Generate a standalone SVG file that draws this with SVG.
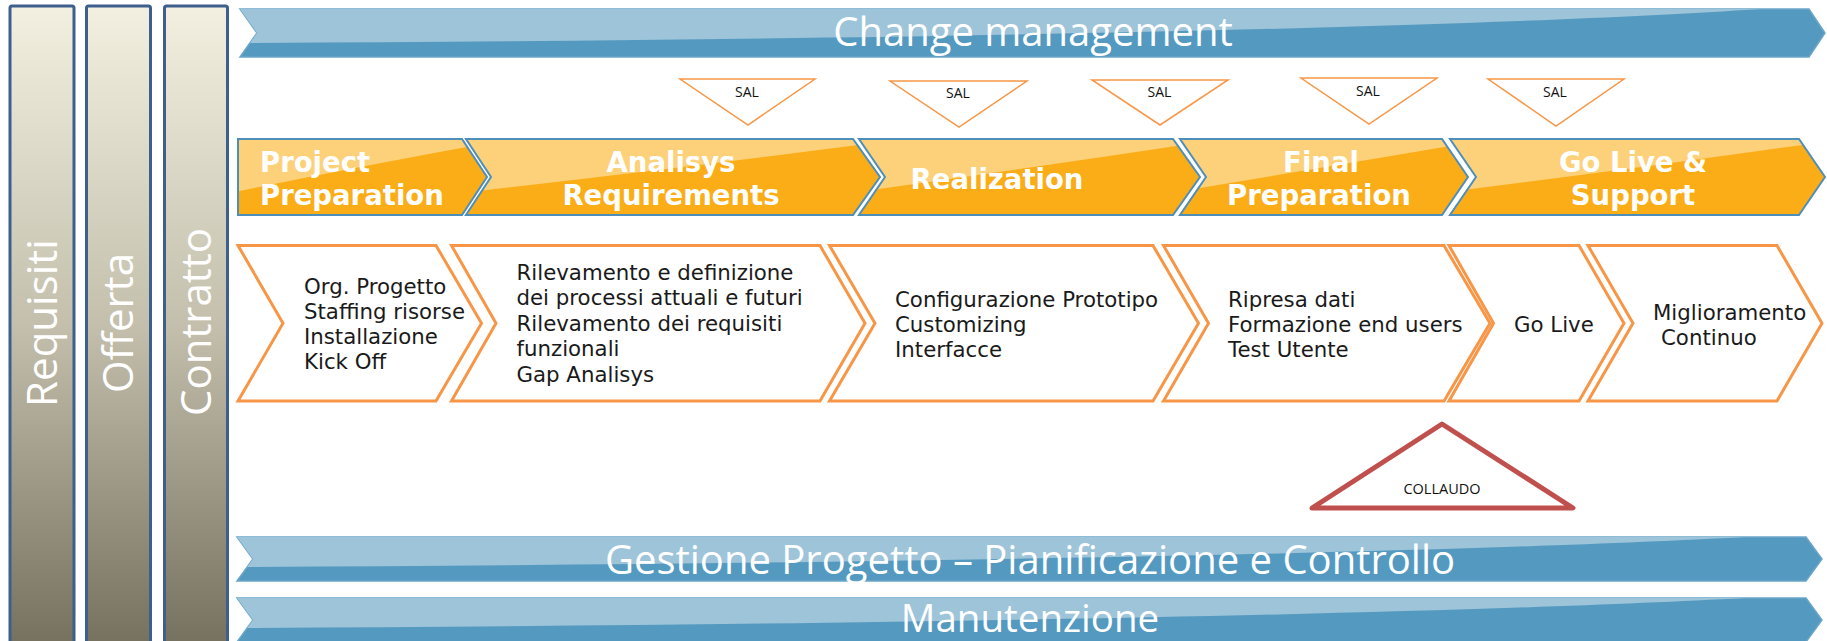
<svg xmlns="http://www.w3.org/2000/svg" width="1827" height="641" viewBox="0 0 1827 641">
<defs>
<linearGradient id="barGrad" x1="0" y1="0" x2="0" y2="1">
<stop offset="0" stop-color="#f3f0e1"/>
<stop offset="0.5" stop-color="#c3bfac"/>
<stop offset="1" stop-color="#75715e"/>
</linearGradient>
<clipPath id="cpTop"><path d="M240,9 L1809,9 L1825,33 L1809,57 L240,57 L257,33 Z"/></clipPath>
<clipPath id="cpGes"><path d="M237,537 L1806,537 L1822,559 L1806,581 L237,581 L253,559 Z"/></clipPath>
<clipPath id="cpMan"><path d="M237,598 L1806,598 L1822,620 L1806,642 L237,642 L253,620 Z"/></clipPath>
<clipPath id="cpS1"><path d="M238,139 L462,139 L487,177 L462,215 L238,215 Z"/></clipPath>
<clipPath id="cpS2"><path d="M466,139 L853,139 L880,177 L853,215 L466,215 L491,177 Z"/></clipPath>
<clipPath id="cpS3"><path d="M859,139 L1173,139 L1200,177 L1173,215 L859,215 L885,177 Z"/></clipPath>
<clipPath id="cpS4"><path d="M1180,139 L1442,139 L1468,177 L1442,215 L1180,215 L1206,177 Z"/></clipPath>
<clipPath id="cpS5"><path d="M1450,139 L1799,139 L1825,177 L1799,215 L1450,215 L1476,177 Z"/></clipPath>
</defs>
<style>
.bar{fill:url(#barGrad);stroke:#3d5f8e;stroke-width:3}
.vlab{font-family:"Open Sans","DejaVu Sans",sans-serif;font-size:42px;fill:#ffffff;text-anchor:middle}
.ban{fill:#5499bf;stroke:#6aa6c9;stroke-width:1.5}
.bgl{fill:#9dc4d9}
.btxt{font-family:"Open Sans","DejaVu Sans",sans-serif;font-size:40px;fill:#ffffff;text-anchor:middle}
.seg{fill:#fbad18}
.sgl{fill:#fdd179}
.segb{fill:none;stroke:#4e8fba;stroke-width:2}
.ptxt{font-family:"DejaVu Sans",Verdana,sans-serif;font-weight:bold;font-size:27.5px;fill:#ffffff}
.box{fill:#ffffff;stroke:#f79646;stroke-width:3}
.btx{font-family:"DejaVu Sans",Verdana,sans-serif;font-size:21.3px;fill:#1a1a1a}
.sal{fill:#ffffff;stroke:#f79646;stroke-width:1.5}
.stx{font-family:"Open Sans","Liberation Sans",sans-serif;font-size:14px;fill:#111111;text-anchor:middle}
.col{fill:#ffffff;stroke:#c0504d;stroke-width:5;stroke-linejoin:round}
</style>

<g id="bar-requisiti">
<rect class="bar" x="10" y="6" width="64" height="640" rx="2"/>
<text class="vlab" transform="translate(57,323) rotate(-90)">Requisiti</text>
</g>
<g id="bar-offerta">
<rect class="bar" x="86.5" y="6" width="64" height="640" rx="2"/>
<text class="vlab" transform="translate(133,323) rotate(-90)">Offerta</text>
</g>
<g id="bar-contratto">
<rect class="bar" x="164.5" y="6" width="63" height="640" rx="2"/>
<text class="vlab" transform="translate(211,322) rotate(-90)">Contratto</text>
</g>

<g id="banner-change">
<path class="ban" d="M240,9 L1809,9 L1825,33 L1809,57 L240,57 L257,33 Z"/>
<path class="bgl" clip-path="url(#cpTop)" d="M230,7 H1790 C1500,28 900,40 230,43 Z"/>
<text class="btxt" x="1033" y="45.5">Change management</text>
</g>

<g id="sal-1"><path class="sal" d="M680,79 L815,79 L748,125 Z"/><text class="stx" x="747" y="96.5">SAL</text></g>
<g id="sal-2"><path class="sal" d="M890,81 L1027,81 L959,127 Z"/><text class="stx" x="958" y="98">SAL</text></g>
<g id="sal-3"><path class="sal" d="M1092,80 L1228,80 L1160,125 Z"/><text class="stx" x="1159.5" y="97">SAL</text></g>
<g id="sal-4"><path class="sal" d="M1301,78 L1437,78 L1369,124 Z"/><text class="stx" x="1368" y="95.5">SAL</text></g>
<g id="sal-5"><path class="sal" d="M1488,79 L1624,79 L1556,126 Z"/><text class="stx" x="1555" y="96.5">SAL</text></g>

<g id="phase-project-preparation">
<path class="seg" d="M238,139 L462,139 L487,177 L462,215 L238,215 Z"/>
<path class="sgl" clip-path="url(#cpS1)" d="M230,135 H500 V141 Q362,166 230,193 Z"/>
<path class="segb" d="M238,139 L462,139 L487,177 L462,215 L238,215 Z"/>
<text class="ptxt" x="260" y="171.5">Project</text>
<text class="ptxt" x="260" y="205">Preparation</text>
</g>
<g id="phase-analisys">
<path class="seg" d="M466,139 L853,139 L880,177 L853,215 L466,215 L491,177 Z"/>
<path class="sgl" clip-path="url(#cpS2)" d="M460,135 H890 V141 Q680,168 460,193 Z"/>
<path class="segb" d="M466,139 L853,139 L880,177 L853,215 L466,215 L491,177 Z"/>
<text class="ptxt" x="671" y="171.5" text-anchor="middle">Analisys</text>
<text class="ptxt" x="671" y="205" text-anchor="middle">Requirements</text>
</g>
<g id="phase-realization">
<path class="seg" d="M859,139 L1173,139 L1200,177 L1173,215 L859,215 L885,177 Z"/>
<path class="sgl" clip-path="url(#cpS3)" d="M850,135 H1210 V141 Q1030,168 850,193 Z"/>
<path class="segb" d="M859,139 L1173,139 L1200,177 L1173,215 L859,215 L885,177 Z"/>
<text class="ptxt" x="997" y="188.5" text-anchor="middle">Realization</text>
</g>
<g id="phase-final-preparation">
<path class="seg" d="M1180,139 L1442,139 L1468,177 L1442,215 L1180,215 L1206,177 Z"/>
<path class="sgl" clip-path="url(#cpS4)" d="M1170,135 H1480 V141 Q1320,168 1170,193 Z"/>
<path class="segb" d="M1180,139 L1442,139 L1468,177 L1442,215 L1180,215 L1206,177 Z"/>
<text class="ptxt" x="1321" y="171.5" text-anchor="middle">Final</text>
<text class="ptxt" x="1319" y="205" text-anchor="middle">Preparation</text>
</g>
<g id="phase-go-live">
<path class="seg" d="M1450,139 L1799,139 L1825,177 L1799,215 L1450,215 L1476,177 Z"/>
<path class="sgl" clip-path="url(#cpS5)" d="M1440,135 H1830 V141 Q1640,168 1440,193 Z"/>
<path class="segb" d="M1450,139 L1799,139 L1825,177 L1799,215 L1450,215 L1476,177 Z"/>
<text class="ptxt" x="1633" y="171.5" text-anchor="middle">Go Live &amp;</text>
<text class="ptxt" x="1633" y="205" text-anchor="middle">Support</text>
</g>

<g id="box-1">
<path class="box" d="M238,245.5 L436,245.5 L481.5,323.3 L436,401 L238,401 L283,323.3 Z"/>
<text class="btx" x="304" y="294.3">Org. Progetto</text>
<text class="btx" x="304" y="319.3">Staffing risorse</text>
<text class="btx" x="304" y="344.3">Installazione</text>
<text class="btx" x="304" y="369.3">Kick Off</text>
</g>
<g id="box-2">
<path class="box" d="M451.5,245.5 L820,245.5 L865,323.3 L820,401 L451.5,401 L496,323.3 Z"/>
<text class="btx" x="516.5" y="280">Rilevamento e definizione</text>
<text class="btx" x="516.5" y="305.4">dei processi attuali e futuri</text>
<text class="btx" x="516.5" y="330.8">Rilevamento dei requisiti</text>
<text class="btx" x="516.5" y="356.2">funzionali</text>
<text class="btx" x="516.5" y="381.6">Gap Analisys</text>
</g>
<g id="box-3">
<path class="box" d="M829.5,245.5 L1153,245.5 L1198.5,323.3 L1153,401 L829.5,401 L875,323.3 Z"/>
<text class="btx" x="895" y="306.5">Configurazione Prototipo</text>
<text class="btx" x="895" y="331.5">Customizing</text>
<text class="btx" x="895" y="356.5">Interfacce</text>
</g>
<g id="box-4">
<path class="box" d="M1163.5,245.5 L1444,245.5 L1490,323.3 L1444,401 L1163.5,401 L1208.5,323.3 Z"/>
<text class="btx" x="1228" y="306.5">Ripresa dati</text>
<text class="btx" x="1228" y="331.5">Formazione end users</text>
<text class="btx" x="1228" y="356.5">Test Utente</text>
</g>
<g id="box-5">
<path class="box" d="M1449,245.5 L1579,245.5 L1624,323.3 L1579,401 L1449,401 L1493.5,323.3 Z"/>
<text class="btx" x="1514" y="331.5">Go Live</text>
</g>
<g id="box-6">
<path class="box" d="M1588,245.5 L1777,245.5 L1822,323.3 L1777,401 L1588,401 L1633,323.3 Z"/>
<text class="btx" x="1653" y="319.5">Miglioramento</text>
<text class="btx" x="1661" y="344.5">Continuo</text>
</g>

<g id="collaudo">
<path class="col" d="M1442,424 L1573,508 L1312,508 Z"/>
<text class="stx" x="1442" y="494" style="font-size:14.5px">COLLAUDO</text>
</g>

<g id="banner-gestione">
<path class="ban" d="M237,537 L1806,537 L1822,559 L1806,581 L237,581 L253,559 Z"/>
<path class="bgl" clip-path="url(#cpGes)" d="M230,535 H1780 C1500,552 900,564 230,567 Z"/>
<text class="btxt" x="1030" y="573.5">Gestione Progetto – Pianificazione e Controllo</text>
</g>
<g id="banner-manutenzione">
<path class="ban" d="M237,598 L1806,598 L1822,620 L1806,642 L237,642 L253,620 Z"/>
<path class="bgl" clip-path="url(#cpMan)" d="M230,596 H1780 C1500,613 900,625 230,628 Z"/>
<text class="btxt" x="1030" y="632" style="font-size:38.5px">Manutenzione</text>
</g>

<g id="connectors"></g>
</svg>
